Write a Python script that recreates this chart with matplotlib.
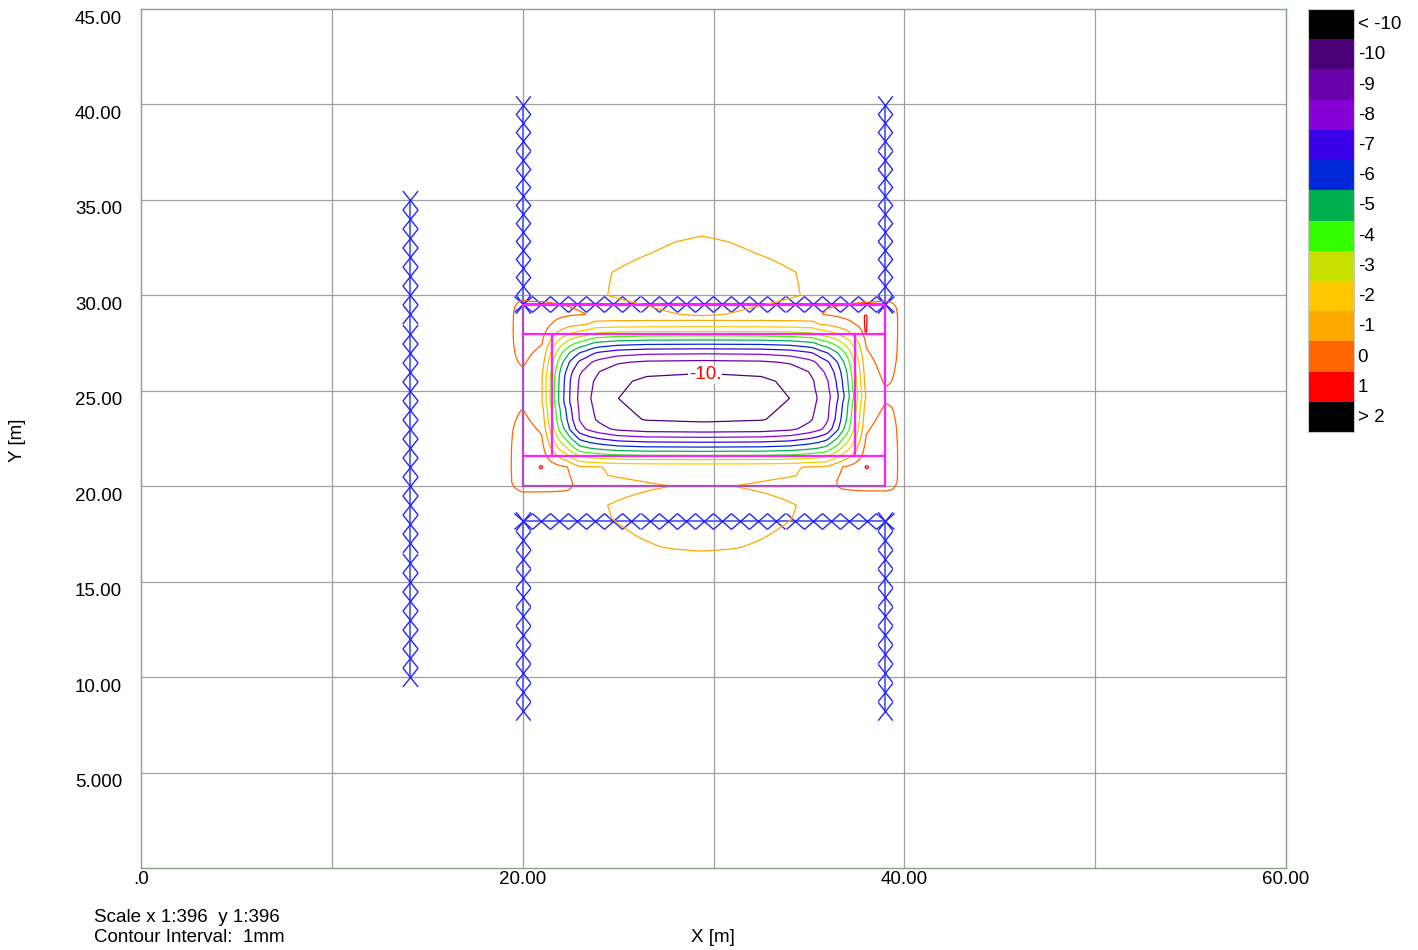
import numpy as np
import matplotlib
matplotlib.use("Agg")
import matplotlib.pyplot as plt
from matplotlib.path import Path
from matplotlib.transforms import offset_copy, blended_transform_factory

plt.rcParams["font.family"] = ["Liberation Sans", "DejaVu Sans"]
FS = 13.5

# ---- contour levels (settlement, mm) and legend ----
levels = [-10, -9, -8, -7, -6, -5, -4, -3, -2, -1, 0, 1]
legend_labels = ["< -10", "-10", "-9", "-8", "-7", "-6", "-5", "-4",
                 "-3", "-2", "-1", "0", "1", "> 2"]
legend_colors = ["#000000", "#4b0078", "#6a00a8", "#8800d8", "#3a00e8",
                 "#0028d8", "#00b050", "#33ff00", "#c8e000", "#ffc800",
                 "#ffa800", "#ff6600", "#ff0000", "#000000"]
level_colors = legend_colors[1:13]

# ---- settlement field: background plus separable terms (amp, x-profile, y-profile) ----
FAR = -0.3

# excavation trough
core_x = [20.0, 21.0, 21.5, 22.0, 22.5, 23.0, 23.5, 24.0, 25.0, 26.5, 29.5,
          32.5, 34.0, 35.0, 35.5, 36.0, 36.5, 37.0, 37.5, 38.0, 39.0]
core_fx = [0.0, 0.06, 0.30, 0.515, 0.675, 0.79, 0.855, 0.90, 0.96, 0.99, 1.0,
           0.99, 0.96, 0.90, 0.855, 0.79, 0.675, 0.515, 0.30, 0.06, 0.0]
core_y = [20.0, 21.0, 21.5, 22.0, 22.5, 23.0, 23.5, 24.6, 25.5, 26.0, 26.5,
          27.0, 27.5, 28.0, 28.5, 29.0]
core_fy = [0.0, 0.07, 0.315, 0.545, 0.74, 0.92, 0.975, 1.0, 0.985, 0.955,
           0.885, 0.745, 0.54, 0.31, 0.11, 0.0]

# lobe north of the pit
north_x = [24.2, 24.45, 26.0, 28.0, 29.4, 30.8, 33.0, 34.55, 34.8]
north_fx = [0.0, 0.70, 0.80, 0.92, 1.0, 0.92, 0.80, 0.70, 0.0]
north_y = [28.75, 29.0, 29.5, 30.0, 31.2, 32.2, 32.8, 33.1, 33.6, 34.0]
north_fy = [0.0, 0.75, 0.85, 1.0, 0.98, 0.83, 0.76, 0.70, 0.4, 0.0]

# lobe south of the pit
south_x = [24.0, 24.45, 25.0, 26.0, 27.0, 28.0, 29.4, 30.8, 31.8, 32.8, 33.8, 34.35, 34.8]
south_fx = [0.0, 0.70, 0.75, 0.83, 0.90, 0.96, 1.0, 0.96, 0.90, 0.83, 0.75, 0.70, 0.0]
south_y = [16.4, 16.6, 16.8, 17.2, 17.8, 18.3, 19.0, 19.5, 20.0, 20.5, 21.0, 21.5]
south_fy = [0.0, 0.70, 0.76, 0.82, 0.90, 0.97, 1.0, 0.87, 0.74, 0.5, 0.25, 0.0]

# heave next to the walls
ul_x = [19.3, 19.5, 20.0, 20.4, 21.2, 21.7, 22.5, 23.3, 23.8]
ul_fx = [0.0, 0.3, 1.0, 0.8, 0.75, 0.6, 0.42, 0.33, 0.0]
ul_y = [25.8, 26.25, 26.8, 27.5, 28.2, 29.0, 29.4, 29.75, 30.1]
ul_fy = [0.0, 0.3, 0.6, 0.9, 1.0, 0.92, 0.7, 0.3, 0.0]

ll_x = [19.2, 19.4, 20.0, 20.8, 21.5, 22.3, 22.7, 23.0]
ll_fx = [0.0, 0.3, 1.0, 1.0, 0.95, 0.8, 0.35, 0.0]
ll_y = [19.4, 19.7, 20.2, 21.0, 22.0, 22.9, 23.5, 24.05, 24.4]
ll_fy = [0.0, 0.3, 0.9, 1.0, 0.95, 0.75, 0.5, 0.3, 0.0]

ur_x = [35.2, 35.6, 36.3, 37.5, 38.5, 39.0, 39.3, 39.65, 39.8]
ur_fx = [0.0, 0.3, 0.45, 0.7, 0.85, 1.0, 0.8, 0.3, 0.0]
ur_y = [24.8, 25.2, 26.0, 27.0, 28.0, 28.8, 29.3, 29.7, 30.0]
ur_fy = [0.0, 0.3, 0.55, 0.85, 1.0, 1.0, 0.8, 0.3, 0.0]

lr_x = [35.9, 36.2, 36.8, 37.6, 38.3, 39.0, 39.35, 39.65, 39.85]
lr_fx = [0.0, 0.3, 0.75, 0.95, 1.0, 1.0, 0.8, 0.3, 0.0]
lr_y = [19.4, 19.75, 20.3, 21.0, 22.0, 23.0, 23.6, 24.35, 24.7]
lr_fy = [0.0, 0.3, 0.9, 1.0, 0.95, 0.75, 0.55, 0.3, 0.0]

# local peaks
pk1_x, pk1_fx = [20.82, 20.96, 21.10], [0.0, 1.0, 0.0]
pk1_y, pk1_fy = [20.86, 21.0, 21.14], [0.0, 1.0, 0.0]
pk2_x, pk2_fx = [37.89, 38.03, 38.17], [0.0, 1.0, 0.0]
pk2_y, pk2_fy = [20.86, 21.0, 21.14], [0.0, 1.0, 0.0]
pk3_x, pk3_fx = [37.80, 37.97, 38.14], [0.0, 1.0, 0.0]
pk3_y, pk3_fy = [27.8, 28.1, 28.9, 29.15], [0.0, 1.0, 1.0, 0.0]

terms = [
    (-10.1, core_x, core_fx, core_y, core_fy),
    (-1.0, north_x, north_fx, north_y, north_fy),
    (-1.0, south_x, south_fx, south_y, south_fy),
    (1.0, ul_x, ul_fx, ul_y, ul_fy),
    (1.0, ll_x, ll_fx, ll_y, ll_fy),
    (1.0, ur_x, ur_fx, ur_y, ur_fy),
    (1.0, lr_x, lr_fx, lr_y, lr_fy),
    (1.0, pk1_x, pk1_fx, pk1_y, pk1_fy),
    (1.0, pk2_x, pk2_fx, pk2_y, pk2_fy),
    (0.95, pk3_x, pk3_fx, pk3_y, pk3_fy),
]

# ---- structures ----
col_x = 14.1
col_y = np.arange(10, 36)                   # nodes every metre
wall_xs = [20.0, 39.0]
wall_upper_y = np.linspace(29.55, 39.95, 12)
wall_lower_y = np.linspace(8.25, 18.2, 11)
row_ys = [29.55, 18.2]
row_x = np.linspace(20.0, 39.0, 21)

pit_x0, pit_x1 = 20.0, 39.0
pit_y0, pit_top = 20.0, 29.5
slab_ys = [29.5, 28.0, 21.58]
inner_xs = [21.52, 37.4]
inner_y0, inner_y1 = 21.58, 28.0

# ---- axes text ----
x_tick_vals = [0, 20, 40, 60]
x_tick_labels = [".0", "20.00", "40.00", "60.00"]
y_tick_vals = [5, 10, 15, 20, 25, 30, 35, 40, 45]
y_tick_labels = ["5.000", "10.00", "15.00", "20.00", "25.00", "30.00",
                 "35.00", "40.00", "45.00"]
grid_x = [10, 20, 30, 40, 50]
grid_y = [5, 10, 15, 20, 25, 30, 35, 40]


def profile(knots, vals, pts):
    return np.interp(pts, knots, vals, left=0.0, right=0.0)


xg = np.arange(14.0, 45.0, 0.05)
yg = np.arange(12.0, 38.0, 0.05)
Z = np.full((len(yg), len(xg)), FAR)
for amp, kx, vx, ky, vy in terms:
    Z += amp * np.outer(profile(ky, vy, yg), profile(kx, vx, xg))


def x_marker(w, h):
    return Path([(-w, -h), (w, h), (-w, h), (w, -h)],
                [Path.MOVETO, Path.LINETO, Path.MOVETO, Path.LINETO])


fig = plt.figure(figsize=(14.18, 9.5), dpi=100)
ax = fig.add_axes([141 / 1418, 82 / 950, 1145 / 1418, 859 / 950])
ax.set_xlim(0, 60)
ax.set_ylim(0, 45)
ax.set_xticks([])
ax.set_yticks([])
for s in ax.spines.values():
    s.set_color("#86a386")
    s.set_linewidth(1.0)

ax.vlines(grid_x, 0, 45, color="#a0a0a0", lw=0.9, zorder=1)
ax.hlines(grid_y, 0, 60, color="#a0a0a0", lw=0.9, zorder=1)

# walls
wall_blue = "#2626ff"
line_blue = "#5c6cf0"
vmark = x_marker(0.4, 0.5)
hmark = x_marker(0.5, 0.44)
ax.plot(np.full(len(col_y), col_x), col_y, color=line_blue, lw=1.4, zorder=2)
ax.plot(np.full(len(col_y), col_x), col_y, ls="none", marker=vmark, ms=13.7,
        mec=wall_blue, mew=1.0, zorder=2)
for wx in wall_xs:
    for wy in (wall_upper_y, wall_lower_y):
        ax.plot(np.full(len(wy), wx), wy, color=line_blue, lw=1.4, zorder=2)
        ax.plot(np.full(len(wy), wx), wy, ls="none", marker=vmark, ms=13.2,
                mec=wall_blue, mew=1.0, zorder=2)
for ry in row_ys:
    ax.plot(row_x, np.full(len(row_x), ry), color=line_blue, lw=1.4, zorder=2)
    ax.plot(row_x, np.full(len(row_x), ry), ls="none", marker=hmark, ms=13.0,
            mec=wall_blue, mew=1.0, zorder=2)

# settlement contours
ax.contour(xg, yg, Z, levels=levels, colors=level_colors, linewidths=0.9,
           zorder=3)
ax.text(29.56, 25.83, f"{levels[0]}.", color="#ff0000", fontsize=FS,
        ha="center", va="center", zorder=6,
        bbox=dict(fc="white", ec="none", pad=0.5))

# pit outline and slabs
purple = "#b050c0"
magenta = "#ff20ff"
ax.plot([pit_x0, pit_x0], [pit_y0, pit_top], color=purple, lw=1.6, zorder=4)
ax.plot([pit_x0, pit_x1], [pit_y0, pit_y0], color=purple, lw=1.6, zorder=4)
ax.plot([pit_x1, pit_x1], [pit_y0, pit_top], color=magenta, lw=1.6, zorder=4)
for sy in slab_ys:
    ax.plot([pit_x0, pit_x1], [sy, sy], color=magenta, lw=1.6, zorder=4)
for ix in inner_xs:
    ax.plot([ix, ix], [inner_y0, inner_y1], color=magenta, lw=1.6, zorder=4)

# tick labels
ytr = offset_copy(ax.get_yaxis_transform(), fig=fig, x=-19, y=-10, units="dots")
for v, lab in zip(y_tick_vals, y_tick_labels):
    ax.text(0, v, lab, transform=ytr, ha="right", va="center", fontsize=FS)
xtr = offset_copy(ax.get_xaxis_transform(), fig=fig, y=-12, units="dots")
for v, lab in zip(x_tick_vals, x_tick_labels):
    ax.text(v, 0, lab, transform=xtr, ha="center", va="center", fontsize=FS)

fig.text(17 / 1418, 1 - 440 / 950, "Y [m]", rotation=90, ha="center",
         va="center", fontsize=FS)
fig.text(713 / 1418, 1 - 938 / 950, "X [m]", ha="center", va="center",
         fontsize=FS)
fig.text(94 / 1418, 1 - 918 / 950, "Scale x 1:396  y 1:396", ha="left",
         va="center", fontsize=FS)
fig.text(94 / 1418, 1 - 937 / 950, "Contour Interval:  1mm", ha="left",
         va="center", fontsize=FS)

# colour legend
cax = fig.add_axes([1308 / 1418, (950 - 432) / 950, 46 / 1418, 423 / 950])
pos = np.arange(len(legend_labels))
cax.barh(pos, 1, height=1.0, color=legend_colors, edgecolor="none")
cax.set_xlim(0, 1)
cax.set_ylim(len(legend_labels) - 0.5, -0.5)
cax.set_xticks([])
cax.set_yticks([])
for s in cax.spines.values():
    s.set_color("#c8c8c8")
    s.set_linewidth(0.8)
ltr = blended_transform_factory(cax.transAxes, cax.transData)
for p, lab in zip(pos, legend_labels):
    cax.text(1.08, p + 0.02, lab, transform=ltr, ha="left", va="center",
             fontsize=FS)

fig.savefig("out.png", dpi=100)
